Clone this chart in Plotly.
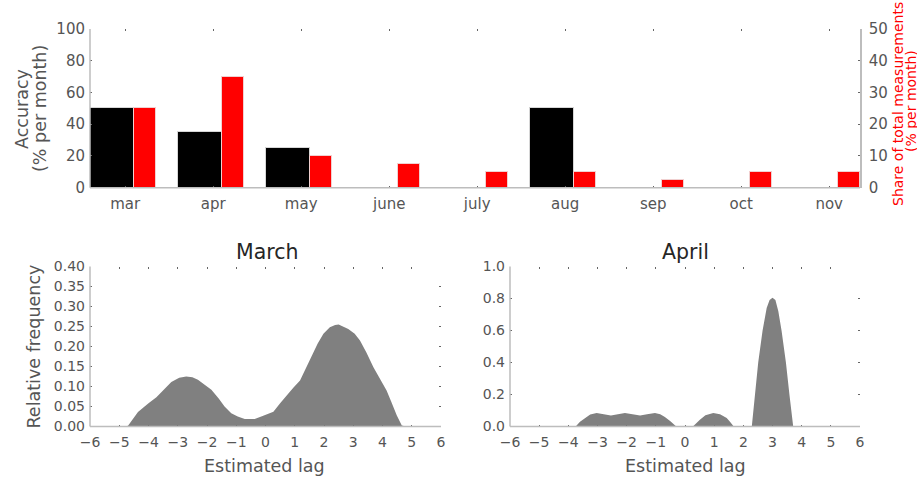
import plotly.graph_objects as go

# ---------------- data ----------------
months = ["mar", "apr", "may", "june", "july", "aug", "sep", "oct", "nov"]
accuracy = [50, 35, 25, 0, 0, 50, 0, 0, 0]          # % per month (left axis)
share = [25, 35, 10, 7.5, 5, 5, 2.5, 5, 5]           # % of total measurements (right axis)

march_lag = [-6, -4.8, -4.7, -4.36, -4.0, -3.73, -3.22, -2.95, -2.71, -2.5, -2.31, -2.05,
             -1.85, -1.6, -1.4, -1.17, -0.95, -0.71, -0.5, -0.37, -0.1, 0.27, 0.5, 0.72,
             0.95, 1.18, 1.38, 1.58, 1.78, 1.98, 2.2, 2.38, 2.5, 2.83, 3.05, 3.23, 3.45,
             3.69, 3.9, 4.14, 4.3, 4.49, 4.66, 4.8, 6]
march_freq = [0, 0, 0.002, 0.036, 0.058, 0.073, 0.111, 0.122, 0.125, 0.123, 0.117, 0.104,
              0.092, 0.070, 0.050, 0.033, 0.025, 0.019, 0.018, 0.019, 0.026, 0.037, 0.058, 0.0775,
              0.097, 0.115, 0.145, 0.1775, 0.207, 0.232, 0.248, 0.254, 0.255, 0.244, 0.232, 0.215, 0.185,
              0.148, 0.122, 0.090, 0.062, 0.0275, 0.0025, 0, 0]

april_lag = [-6, -3.75, -3.6, -3.43, -3.25, -3.03, -2.8, -2.54, -2.3, -2.06, -1.8, -1.54,
             -1.3, -1.03, -0.85, -0.69, -0.5, -0.3, 0.27, 0.4, 0.51, 0.7, 0.97, 1.2, 1.43,
             1.55, 1.67, 2.29, 2.39, 2.51, 2.66, 2.8, 2.9, 3.0, 3.1, 3.2, 3.31, 3.46, 3.58,
             3.71, 6]
april_freq = [0, 0, 0.03, 0.053, 0.075, 0.084, 0.075, 0.069, 0.076, 0.084, 0.076, 0.069,
              0.077, 0.084, 0.076, 0.059, 0.033, 0, 0, 0.025, 0.042, 0.07, 0.085, 0.077, 0.053,
              0.028, 0, 0, 0.2, 0.4, 0.6, 0.74, 0.79, 0.805, 0.79, 0.72, 0.6, 0.4, 0.2,
              0, 0]

# ---------------- style ----------------
FONT = "DejaVu Sans"
TICKC = "#555555"
LINEC = "#bdbdbd"
FILLC = "#808080"

idx = list(range(len(months)))

fig = go.Figure()
fig.add_trace(go.Bar(x=idx, y=accuracy, width=0.5, offset=-0.4,
                     marker=dict(color="black", line=dict(color="#d6d6d6", width=1)),
                     xaxis="x", yaxis="y", showlegend=False))
fig.add_trace(go.Bar(x=idx, y=share, width=0.25, offset=0.1,
                     marker=dict(color="red", line=dict(color="#f0d0d0", width=1)),
                     xaxis="x", yaxis="y2", showlegend=False))
fig.add_trace(go.Scatter(x=march_lag, y=march_freq, mode="lines", fill="tozeroy",
                         fillcolor=FILLC, line=dict(width=0, color=FILLC),
                         xaxis="x2", yaxis="y3", showlegend=False))
fig.add_trace(go.Scatter(x=april_lag, y=april_freq, mode="lines", fill="tozeroy",
                         fillcolor=FILLC, line=dict(width=0, color=FILLC),
                         xaxis="x3", yaxis="y4", showlegend=False))

W, H = 917, 477
def px(x):
    return x / W
def py(y):
    return 1 - y / H

top_dom_x = [px(90), px(860)]
top_dom_y = [py(187.7), py(29)]
bl_dom_x = [px(90), px(441)]
br_dom_x = [px(510), px(860)]
bot_dom_y = [py(426.5), py(266.5)]

common = dict(showgrid=False, zeroline=False, showline=False, ticks="inside",
              ticklen=2, tickwidth=1, tickcolor="#666666", mirror="ticks",
              automargin=False,
              tickfont=dict(family=FONT, size=15, color=TICKC))
common_b = dict(common, tickfont=dict(family=FONT, size=14, color=TICKC))
xs = dict(ticklabelstandoff=5)
ys = dict(ticklabelstandoff=4)

fig.update_layout(
    template="none",
    width=W, height=H, margin=dict(l=0, r=0, t=0, b=0),
    paper_bgcolor="white", plot_bgcolor="white",
    barmode="overlay", bargap=0,
    font=dict(family=FONT, color=TICKC),
    xaxis=dict(common, **xs, domain=top_dom_x, anchor="y", range=[-0.4, 8.35],
               tickvals=idx, ticktext=months),
    yaxis=dict(common, **ys, domain=top_dom_y, anchor="x", range=[0, 100],
               tickvals=[0, 20, 40, 60, 80, 100]),
    yaxis2=dict(common, **ys, overlaying="y", side="right", anchor="x", range=[0, 50],
                tickvals=[0, 10, 20, 30, 40, 50], showline=True, linecolor=LINEC,
                linewidth=1.5, mirror=False),
    xaxis2=dict(common_b, **xs, domain=bl_dom_x, anchor="y3", range=[-6, 6],
                tickvals=list(range(-6, 7))),
    yaxis3=dict(common_b, **ys, domain=bot_dom_y, anchor="x2", range=[0, 0.4],
                tickvals=[0, 0.05, 0.1, 0.15, 0.2, 0.25, 0.3, 0.35, 0.4], tickformat=".2f"),
    xaxis3=dict(common_b, **xs, domain=br_dom_x, anchor="y4", range=[-6, 6],
                tickvals=list(range(-6, 7))),
    yaxis4=dict(common_b, **ys, domain=bot_dom_y, anchor="x3", range=[0, 1],
                tickvals=[0, 0.2, 0.4, 0.6, 0.8, 1.0], tickformat=".1f"),
)

# axis lines (left and bottom spines)
shapes = []
for xa, ya in [("x", "y"), ("x2", "y3"), ("x3", "y4")]:
    shapes.append(dict(type="line", xref=f"{xa} domain", yref=f"{ya} domain",
                       x0=0, x1=0, y0=0, y1=1, line=dict(color=LINEC, width=1.5), layer="above"))
    shapes.append(dict(type="line", xref=f"{xa} domain", yref=f"{ya} domain",
                       x0=0, x1=1, y0=0, y1=0, line=dict(color=LINEC, width=1.5), layer="above"))
fig.update_layout(shapes=shapes)

def ann(text, x, y, size, color=TICKC, angle=0):
    return dict(text=text, x=px(x), y=py(y), xref="paper", yref="paper",
                showarrow=False, xanchor="center", yanchor="middle", textangle=angle,
                font=dict(family=FONT, size=size, color=color))

fig.update_layout(annotations=[
    ann("Accuracy", 22, 109, 17.5, angle=-90),
    ann("(% per month)", 40, 109, 17.5, angle=-90),
    ann("Share of total measurements", 898, 104, 14, color="red", angle=-90),
    ann("(% per month)", 911, 101, 14, color="red", angle=-90),
    ann("March", 267, 252, 20.5, color="#262626"),
    ann("April", 685, 252, 20.5, color="#262626"),
    ann("Relative frequency", 33, 346.5, 17.5, angle=-90),
    ann("Estimated lag", 264.5, 466, 17.5),
    ann("Estimated lag", 685.3, 466, 17.5),
])

fig.write_html("out.html")
